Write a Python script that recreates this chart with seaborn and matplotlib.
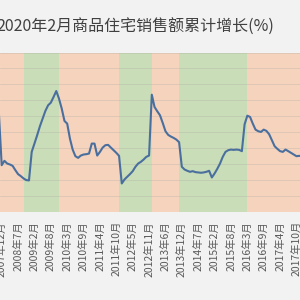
"""商品住宅销售额累计增长 line chart with policy-cycle shading."""

import matplotlib
matplotlib.use("Agg")
import matplotlib.pyplot as plt
import numpy as np
import pandas as pd
import seaborn as sns

# category axis: monthly, January merged into February (no January point)
months = ["2007年11月", "2007年12月"] + [
    f"{y}年{m}月" for y in range(2008, 2018) for m in range(2, 13)
]

growth = [
    62.5, -1.3,
    4.2, 0.8, -0.4, -2.1, -7.5, -12.5, -15.0, -17.9, -20.0, -20.4, 15.4,
    25.8, 36.3, 47.5, 57.1, 66.7, 73.8, 77.1, 84.2, 91.7, 82.1, 69.6,
    54.2, 50.8, 32.1, 18.3, 10.0, 7.9, 10.8, 12.1, 12.5, 13.3, 25.8,
    25.8, 10.8, 15.4, 20.8, 23.8, 24.2, 20.8, 17.5, 14.2, 10.4, -24.2,
    -19.2, -15.8, -12.5, -8.8, -3.3, 0.8, 2.9, 5.8, 9.2, 10.8, 87.1,
    71.7, 66.3, 61.3, 51.7, 41.3, 36.7, 34.6, 32.9, 30.8, 27.5, -3.3,
    -6.7, -8.3, -9.6, -8.8, -10.0, -10.4, -10.8, -10.4, -9.6, -8.3, -16.7,
    -11.7, -5.8, 0.8, 9.2, 15.4, 17.5, 18.3, 17.9, 18.3, 17.9, 16.3,
    50.0, 60.8, 59.2, 50.8, 43.3, 41.3, 40.4, 43.3, 41.7, 37.5, 30.0,
    22.5, 19.2, 16.3, 15.4, 18.3, 16.3, 14.2, 12.1, 10.0, 10.4, 10.0,
]

# shaded regimes: boundaries (by month) and alternating colours
regime_edges = ["2008年9月", "2009年11月", "2011年11月", "2012年12月", "2013年11月", "2016年3月"]
regime_colors = ["#f5d3bd", "#c9ddb8"]

first_tick = "2007年12月"
tick_step = 6

title = "2020年2月商品住宅销售额累计增长(%)"


def main() -> None:
    df = pd.DataFrame({"month": months, "growth": growth})
    df["pos"] = np.arange(len(df))

    sns.set_theme(style="white")
    plt.rcParams["font.family"] = ["Noto Sans CJK SC", "DejaVu Sans"]

    fig = plt.figure(figsize=(3, 3), dpi=100, facecolor="#f2f2f2")
    ax = fig.add_axes([0.0, 0.2933, 1.0, 0.5317])
    ax.set_facecolor("#f2f2f2")

    idx = {m: i for i, m in enumerate(months)}
    edges = [-1] + [idx[m] for m in regime_edges] + [len(months) + 1]
    for j in range(len(edges) - 1):
        ax.axvspan(edges[j], edges[j + 1], color=regime_colors[j % 2], lw=0, zorder=0)

    for yv in np.arange(-40, 141, 20):
        ax.axhline(yv, color="#b0a8a0", lw=0.6, alpha=0.35, zorder=1)

    sns.lineplot(data=df, x="pos", y="growth", ax=ax, color="#4a6f9e", lw=1.5, zorder=3)

    ax.set_xlim(0.38, 110.3)
    ax.set_ylim(-60, 140)
    start = idx[first_tick]
    ticks = list(range(start, len(months), tick_step))
    ax.set_xticks(ticks)
    ax.set_xticklabels([months[t] for t in ticks], rotation=90, fontsize=7.5, color="#595959")
    ax.tick_params(axis="x", length=0, pad=6.5)
    ax.set_yticks([])
    ax.set_xlabel("")
    ax.set_ylabel("")
    for s in ax.spines.values():
        s.set_visible(False)

    fig.text(-0.012, 0.91, title, ha="left", va="center", fontsize=11.5, color="#404040")

    fig.savefig("out.png", dpi=100, facecolor=fig.get_facecolor())
    plt.close("all")


if __name__ == "__main__":
    main()
